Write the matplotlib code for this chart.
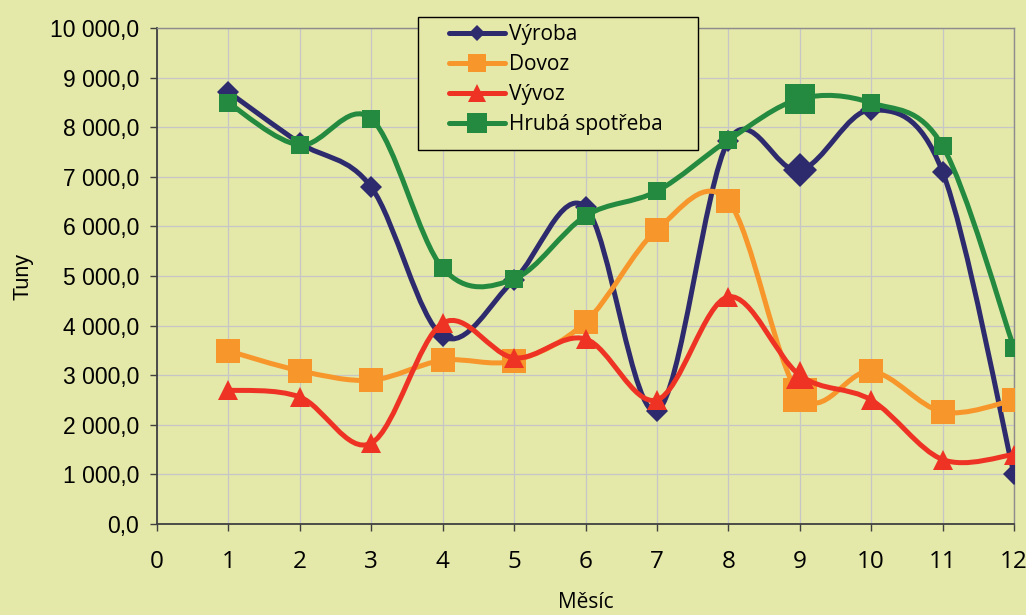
import numpy as np
import matplotlib
matplotlib.use('Agg')
import matplotlib.pyplot as plt
from matplotlib.path import Path
from matplotlib.patches import PathPatch, Rectangle
from matplotlib.lines import Line2D
from matplotlib.ticker import FuncFormatter

# data (tons per month)
months = [1, 2, 3, 4, 5, 6, 7, 8, 9, 10, 11, 12]
vyroba = [8710, 7680, 6790, 3790, 4920, 6390, 2280, 7720, 7130, 8350, 7100, 1000]
dovoz = [3490, 3090, 2900, 3300, 3290, 4070, 5930, 6510, 2600, 3080, 2260, 2500]
vyvoz = [2700, 2560, 1630, 4050, 3350, 3730, 2500, 4580, 3000, 2500, 1300, 1400]
hruba = [8490, 7640, 8170, 5160, 4940, 6210, 6710, 7740, 8570, 8490, 7620, 3550]
names = ['Výroba', 'Dovoz', 'Vývoz', 'Hrubá spotřeba']
highlight = 8  # index of month 9, drawn with bigger markers

BG = '#E4E8A9'
narrow = ['Liberation Sans Narrow', 'Open Sans', 'DejaVu Sans']
arial = ['Liberation Sans', 'DejaVu Sans']

styles = [
    dict(color='#2D2A6E', marker='D', ms=11.5, big=17, leg=7.8),
    dict(color='#F7962B', marker='s', ms=17, big=25, leg=13),
    dict(color='#EE3224', marker='^', ms=15, big=20, leg=12.5),
    dict(color='#238A3F', marker='s', ms=13.5, big=21, leg=13.7),
]


def smooth_path(x, y):
    # excel-like smoothed line: cubic bezier through the points (catmull-rom tangents)
    p = np.column_stack([x, y]).astype(float)
    n = len(p)
    verts = [p[0]]
    codes = [Path.MOVETO]
    for i in range(n - 1):
        p0 = p[i - 1] if i > 0 else p[i]
        p3 = p[i + 2] if i + 2 < n else p[i + 1]
        c1 = p[i] + (p[i + 1] - p0) / 6.0
        c2 = p[i + 1] - (p3 - p[i]) / 6.0
        verts += [c1, c2, p[i + 1]]
        codes += [Path.CURVE4] * 3
    return Path(verts, codes)


fig = plt.figure(figsize=(10.26, 6.15), dpi=100, facecolor=BG)
ax = fig.add_axes([157 / 1026, 1 - 524 / 615, 857 / 1026, 496 / 615])
ax.set_facecolor(BG)

handles = []
for vals, st, name in zip([vyroba, dovoz, vyvoz, hruba], styles, names):
    patch = PathPatch(smooth_path(months, vals), facecolor='none', edgecolor=st['color'],
                      lw=3.6, capstyle='round', joinstyle='round', zorder=3)
    ax.add_patch(patch)
    small = [i for i in range(len(months)) if i != highlight]
    ax.plot([months[i] for i in small], [vals[i] for i in small], ls='none',
            marker=st['marker'], ms=st['ms'], color=st['color'], mec=st['color'], mew=0, zorder=3)
    ax.plot([months[highlight]], [vals[highlight]], ls='none',
            marker=st['marker'], ms=st['big'], color=st['color'], mec=st['color'], mew=0, zorder=3)
    handles.append(Line2D([], [], color=st['color'], lw=3.6, solid_capstyle='round',
                          marker=st['marker'], ms=st['leg'], mew=0, label=name))

ax.set_xlim(0, 12)
ax.set_ylim(0, 10000)
ax.set_xticks(range(0, 13))
ax.set_yticks(range(0, 10001, 1000))
ax.yaxis.set_major_formatter(FuncFormatter(
    lambda v, pos: f'{v:,.1f}'.replace(',', ' ').replace('.', ',')))
ax.grid(True, color='#C6C6C6', lw=0.9, zorder=0)
ax.set_axisbelow(True)

for s in ['top', 'right']:
    ax.spines[s].set_color('#8C8C8C')
    ax.spines[s].set_linewidth(1.0)
for s in ['left', 'bottom']:
    ax.spines[s].set_color('#404040')
    ax.spines[s].set_linewidth(1.3)

ax.tick_params(axis='y', direction='out', length=5, width=1, color='#404040', pad=8)
ax.tick_params(axis='x', direction='out', length=5, width=1, color='#404040', pad=14)
for lab in ax.get_yticklabels():
    lab.set_fontfamily(arial)
    lab.set_fontsize(16.5)
for lab in ax.get_xticklabels():
    lab.set_fontfamily(narrow)
    lab.set_fontsize(17.5)

ax.set_ylabel('Tuny', fontsize=15.5, family=arial, labelpad=11.5)
ax.set_xlabel('Měsíc', fontsize=15, family=narrow, labelpad=12.5)

# legend box (drawn separately so the padding matches the original)
fig.patches.append(Rectangle((418 / 1026, 1 - 150 / 615), 280 / 1026, 133 / 615,
                             transform=fig.transFigure, facecolor=BG, edgecolor='black',
                             lw=1.0, zorder=1))
leg = fig.legend(handles=handles, loc='upper left', bbox_to_anchor=(449 / 1026, 1 - 24 / 615),
                 bbox_transform=fig.transFigure, borderaxespad=0, borderpad=0, frameon=False,
                 prop={'family': narrow, 'size': 15},
                 handlelength=2.7, handletextpad=0.2, labelspacing=0.43)
leg.set_zorder(5)

plt.savefig('out.png', dpi=100, facecolor=BG)
